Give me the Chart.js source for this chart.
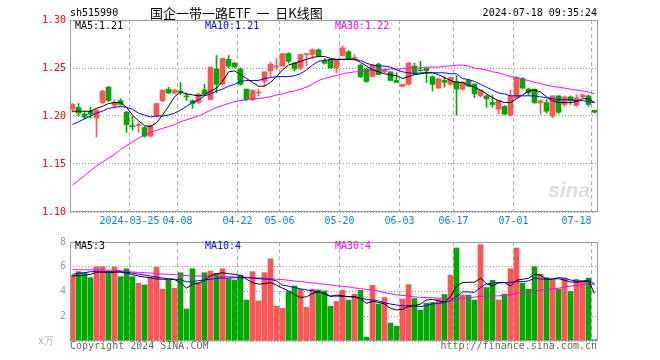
<!DOCTYPE html>
<html>
<head>
<meta charset="utf-8">
<script src="https://cdn.jsdelivr.net/npm/chart.js@4.4.1/dist/chart.umd.min.js"></script>
<style>
  body { margin: 0; background: #fff; }
  #wrap { position: relative; width: 660px; height: 360px; overflow: hidden; font-family: 'DejaVu Sans Mono', monospace; font-size: 10px; }
  #wrap canvas { position: absolute; left: 0; }
  .t { position: absolute; white-space: nowrap; line-height: 12px; }
</style>
</head>
<body>
<div id="wrap">
  <canvas id="priceChart" width="660" height="232" style="top:0"></canvas>
  <canvas id="volChart" width="660" height="128" style="top:232px"></canvas>

  <div class="t" style="left:548px;top:178px;font:italic bold 21px 'Liberation Sans',sans-serif;color:#dcdcdc;line-height:24px">sina</div>

  <div class="t" style="left:70px;top:7px">sh515990</div>
  <div class="t" style="left:150px;top:5px;font-family:'Noto Sans CJK SC',sans-serif;font-size:13px;line-height:16px">国企一带一路ETF&nbsp;&nbsp;一&nbsp;&nbsp;日K线图</div>
  <div class="t" style="right:63px;top:7px">2024-07-18 09:35:24</div>

  <div class="t" style="left:75px;top:20px;color:#000">MA5:1.21</div>
  <div class="t" style="left:205px;top:20px;color:#0000ff">MA10:1.21</div>
  <div class="t" style="left:335px;top:20px;color:#ff00ff">MA30:1.22</div>

  <div class="t" style="left:75px;top:240px;color:#000">MA5:3</div>
  <div class="t" style="left:205px;top:240px;color:#0000ff">MA10:4</div>
  <div class="t" style="left:335px;top:240px;color:#ff00ff">MA30:4</div>

  <div class="t" style="left:38px;top:335px;color:#aaa">x万</div>
  <div class="t" style="left:70px;top:340px;color:#666">Copyright 2024 SINA.COM</div>
  <div class="t" style="right:63px;top:340px;color:#666">http://finance.sina.com.cn</div>
</div>

<script>
// date ticks (index of the trading day in the series)
var tickIndex = [10, 18, 28, 35, 45, 55, 64, 74, 87];
var tickLabels = ['2024-03-25', '04-08', '04-22', '05-06', '05-20', '06-03', '06-17', '07-01', '07-18'];

// daily candles, 88 trading days
var opens = [1.207,1.209,1.202,1.205,1.198,1.214,1.230,1.211,1.216,1.204,
             1.190,1.190,1.188,1.179,1.200,1.216,1.228,1.224,1.226,1.221,
             1.216,1.214,1.227,1.217,1.249,1.233,1.259,1.255,1.249,1.228,
             1.217,1.224,1.236,1.247,1.251,1.252,1.265,1.255,1.250,1.264,
             1.264,1.269,1.258,1.258,1.250,1.263,1.267,1.260,1.253,1.249,
             1.241,1.254,1.246,1.246,1.237,1.231,1.233,1.252,1.248,1.250,
             1.241,1.229,1.237,1.233,1.236,1.228,1.237,1.233,1.221,1.221,
             1.214,1.207,1.210,1.201,1.219,1.239,1.228,1.228,1.214,1.214,
             1.200,1.221,1.212,1.220,1.211,1.220,1.221,1.206];
var highs = [1.213,1.213,1.205,1.209,1.207,1.227,1.231,1.217,1.218,1.205,
             1.200,1.193,1.189,1.191,1.213,1.227,1.230,1.228,1.235,1.224,
             1.217,1.224,1.233,1.251,1.263,1.260,1.263,1.256,1.250,1.228,
             1.227,1.228,1.246,1.256,1.260,1.265,1.266,1.256,1.264,1.265,
             1.270,1.270,1.260,1.259,1.259,1.273,1.268,1.264,1.254,1.250,
             1.254,1.255,1.249,1.246,1.245,1.233,1.256,1.255,1.257,1.250,
             1.242,1.239,1.241,1.241,1.242,1.236,1.238,1.234,1.227,1.222,
             1.222,1.216,1.211,1.227,1.241,1.240,1.229,1.228,1.217,1.217,
             1.221,1.221,1.221,1.221,1.222,1.223,1.222,1.206];
var lows = [1.204,1.200,1.197,1.198,1.178,1.213,1.215,1.209,1.211,1.183,
            1.185,1.183,1.178,1.178,1.199,1.215,1.223,1.223,1.222,1.216,
            1.208,1.213,1.221,1.217,1.224,1.232,1.250,1.250,1.232,1.216,
            1.216,1.221,1.231,1.241,1.248,1.252,1.255,1.247,1.248,1.252,
            1.260,1.262,1.254,1.250,1.245,1.263,1.259,1.258,1.240,1.235,
            1.241,1.243,1.245,1.237,1.235,1.230,1.232,1.243,1.247,1.235,
            1.226,1.229,1.230,1.232,1.201,1.227,1.231,1.219,1.220,1.209,
            1.209,1.202,1.201,1.200,1.218,1.229,1.222,1.213,1.202,1.203,
            1.198,1.202,1.210,1.212,1.210,1.219,1.210,1.203];
var closes = [1.212,1.203,1.199,1.202,1.206,1.226,1.216,1.214,1.212,1.191,
              1.189,1.191,1.179,1.190,1.213,1.227,1.224,1.227,1.225,1.220,
              1.213,1.223,1.223,1.251,1.233,1.260,1.252,1.251,1.233,1.217,
              1.227,1.225,1.246,1.254,1.251,1.265,1.257,1.249,1.264,1.264,
              1.269,1.262,1.255,1.250,1.259,1.271,1.259,1.260,1.241,1.236,
              1.253,1.243,1.248,1.237,1.235,1.233,1.255,1.245,1.247,1.247,
              1.233,1.239,1.235,1.240,1.228,1.235,1.231,1.223,1.227,1.218,
              1.212,1.216,1.202,1.221,1.240,1.229,1.224,1.214,1.216,1.205,
              1.221,1.204,1.220,1.216,1.219,1.222,1.212,1.204];

// moving averages as drawn on the chart
var ma5 = [1.205,1.205,1.205,1.205,1.208,1.210,1.213,1.214,1.214,1.209,
           1.201,1.195,1.190,1.189,1.193,1.201,1.210,1.220,1.225,1.223,
           1.222,1.221,1.222,1.226,1.229,1.236,1.246,1.247,1.243,1.239,
           1.235,1.231,1.231,1.235,1.241,1.248,1.253,1.255,1.257,1.259,
           1.261,1.262,1.262,1.260,1.259,1.259,1.259,1.259,1.256,1.252,
           1.248,1.246,1.244,1.243,1.242,1.239,1.241,1.243,1.244,1.245,
           1.245,1.243,1.240,1.237,1.235,1.235,1.232,1.230,1.227,1.223,
           1.219,1.216,1.214,1.214,1.218,1.222,1.226,1.227,1.225,1.220,
           1.216,1.214,1.214,1.214,1.215,1.218,1.218,1.214];
var ma10 = [1.191,1.194,1.197,1.200,1.203,1.205,1.208,1.209,1.210,1.209,
            1.207,1.203,1.201,1.199,1.200,1.200,1.201,1.203,1.206,1.210,
            1.214,1.217,1.221,1.223,1.226,1.228,1.231,1.233,1.236,1.237,
            1.237,1.237,1.239,1.240,1.241,1.241,1.241,1.242,1.244,1.248,
            1.253,1.257,1.258,1.259,1.259,1.259,1.259,1.259,1.258,1.255,
            1.253,1.252,1.252,1.251,1.248,1.246,1.245,1.244,1.245,1.245,
            1.245,1.245,1.245,1.244,1.244,1.239,1.238,1.236,1.233,1.230,
            1.227,1.224,1.223,1.221,1.221,1.221,1.221,1.221,1.220,1.219,
            1.218,1.217,1.217,1.217,1.216,1.216,1.215,1.214];
var ma30 = [1.128,1.133,1.138,1.143,1.148,1.152,1.156,1.160,1.165,1.169,
            1.173,1.177,1.180,1.183,1.185,1.187,1.189,1.191,1.194,1.196,
            1.198,1.200,1.203,1.206,1.209,1.211,1.213,1.215,1.216,1.217,
            1.218,1.218,1.219,1.220,1.222,1.223,1.225,1.226,1.228,1.230,
            1.233,1.237,1.239,1.241,1.242,1.244,1.245,1.246,1.246,1.247,
            1.248,1.248,1.248,1.249,1.249,1.249,1.250,1.250,1.250,1.251,
            1.251,1.251,1.252,1.252,1.253,1.253,1.252,1.250,1.249,1.248,
            1.246,1.245,1.243,1.241,1.240,1.238,1.237,1.235,1.234,1.232,
            1.231,1.230,1.229,1.228,1.227,1.226,1.225,1.223];

// volume (x万) and its moving averages
var volumes = [5.33,5.6,5.52,5.12,6.0,6.0,5.65,6.0,5.2,5.84,
               5.2,4.67,4.53,5.12,5.97,4.19,4.9,4.27,5.52,2.59,
               5.84,4.72,5.52,5.65,5.47,5.84,5.04,4.93,5.33,3.31,
               5.6,3.23,5.52,6.64,2.8,2.64,4.0,4.45,4.19,2.72,
               4.19,4.13,4.05,2.8,3.2,4.1,3.31,3.79,4.1,0.32,
               4.5,2.99,3.52,1.44,1.2,3.39,4.56,3.44,2.51,3.04,
               3.12,3.39,3.76,5.31,7.52,3.71,3.71,3.31,7.79,4.32,
               4.9,3.31,3.79,5.84,7.52,4.67,4.19,6.0,5.39,5.12,
               4.9,4.19,5.07,4.0,4.99,4.9,5.07,0.1];
var vma5 = [5.25,5.28,5.31,5.39,5.55,5.57,5.57,5.57,5.57,5.49,
            5.36,5.25,5.17,5.12,5.01,4.99,4.99,4.96,4.72,4.27,
            4.59,4.67,4.9,5.28,5.44,5.52,5.44,5.39,5.28,4.99,
            4.72,4.59,4.64,4.72,4.53,4.27,4.05,3.73,3.52,3.57,
            3.84,3.97,3.84,3.6,3.71,3.65,3.57,3.57,3.41,3.04,
            3.2,3.12,2.99,2.64,2.51,2.56,2.8,2.85,2.99,3.31,
            3.36,3.25,3.12,3.57,4.45,4.72,4.75,4.75,5.07,4.64,
            4.45,4.69,4.72,4.45,4.91,4.99,5.07,5.39,5.31,4.99,
            4.99,5.04,4.91,4.77,4.75,4.8,4.85,3.85];
var vma10 = [5.39,5.47,5.52,5.6,5.63,5.57,5.55,5.57,5.6,5.55,
             5.49,5.41,5.33,5.25,5.17,5.09,5.04,4.99,4.96,4.77,
             4.8,4.88,4.93,4.99,5.07,5.09,5.09,5.12,5.12,5.12,
             5.09,5.04,5.01,4.99,4.85,4.51,4.43,4.32,4.21,4.13,
             4.05,3.97,3.81,3.63,3.63,3.6,3.6,3.57,3.47,3.36,
             3.31,3.23,3.09,2.99,2.91,2.85,2.85,2.83,2.77,2.88,
             2.99,3.04,3.12,3.25,3.6,3.97,3.97,3.92,4.32,4.61,
             4.69,4.72,4.72,4.75,4.8,4.8,4.85,5.09,5.01,4.99,
             5.01,5.12,5.07,4.93,4.85,4.83,4.91,4.59];
var vma30 = [5.76,5.76,5.76,5.76,5.76,5.73,5.73,5.71,5.68,5.63,
             5.57,5.55,5.52,5.49,5.44,5.41,5.39,5.36,5.33,5.28,
             5.25,5.25,5.25,5.25,5.23,5.2,5.2,5.17,5.17,5.15,
             5.12,5.09,5.07,5.04,4.99,4.96,4.91,4.85,4.8,4.75,
             4.69,4.64,4.59,4.53,4.45,4.43,4.37,4.29,4.24,4.16,
             4.11,4.03,3.92,3.81,3.73,3.68,3.63,3.57,3.52,3.52,
             3.49,3.47,3.45,3.44,3.44,3.45,3.49,3.55,3.6,3.63,
             3.65,3.65,3.68,3.73,3.84,3.92,3.97,4.03,4.11,4.16,
             4.21,4.27,4.35,4.43,4.51,4.59,4.64,4.56];

var UP = '#ff5555', DOWN = '#00a800';
var xMin = -5 / 12, xMax = xMin + opens.length;

Chart.defaults.font.family = "'DejaVu Sans Mono', monospace";
Chart.defaults.font.size = 10;

function pts(arr) {
    return arr.map(function(v, i) { return {x: i, y: v}; });
}

var candleColors = closes.map(function(c, i) { return c >= opens[i] ? UP : DOWN; });
var bodies = opens.map(function(o, i) { return {x: i, y: [o, closes[i]]}; });
var wicks = lows.map(function(l, i) { return {x: i, y: [l, highs[i]]}; });
var volBars = pts(volumes);

function lineSet(arr, color) {
    return {type: 'line', data: pts(arr), borderColor: color, borderWidth: 1,
            pointRadius: 0, tension: 0, order: 0};
}

// solid grey box round the plot
var framePlugin = {
    id: 'frame',
    afterDraw: function(chart) {
        var a = chart.chartArea, ctx = chart.ctx;
        ctx.save();
        ctx.strokeStyle = '#999';
        ctx.lineWidth = 1;
        ctx.strokeRect(a.left + 0.5, a.top + 0.5, a.right - a.left - 1, a.bottom - a.top - 1);
        ctx.restore();
    }
};

// date labels under the price panel, last one kept inside the box
var dateLabelPlugin = {
    id: 'dateLabels',
    afterDraw: function(chart) {
        var xs = chart.scales.x, ctx = chart.ctx;
        ctx.save();
        ctx.font = "10px 'DejaVu Sans Mono'";
        ctx.fillStyle = '#0a84d0';
        ctx.textBaseline = 'middle';
        for (var k = 0; k < tickIndex.length; k++) {
            var x = xs.getPixelForValue(tickIndex[k] - 0.5);
            ctx.textAlign = (k === tickIndex.length - 1) ? 'right' : 'center';
            ctx.fillText(tickLabels[k], x, chart.chartArea.bottom + 9);
        }
        ctx.restore();
    }
};

function xAxis(height) {
    return {
        type: 'linear', min: xMin, max: xMax, offset: false,
        afterFit: function(s) { s.height = height; },
        afterBuildTicks: function(s) {
            s.ticks = tickIndex.map(function(v) { return {value: v - 0.5}; });
        },
        ticks: {display: false},
        grid: {color: '#b0b0b0', drawTicks: false, offset: false},
        border: {display: false, dash: [4, 3]}
    };
}

new Chart(document.getElementById('priceChart'), {
    type: 'bar',
    data: {
        datasets: [
            lineSet(ma5, '#000000'),
            lineSet(ma10, '#0000ff'),
            lineSet(ma30, '#ff00ff'),
            {data: bodies, backgroundColor: candleColors, barThickness: 5, minBarLength: 1,
             grouped: false, order: 1},
            {data: wicks, backgroundColor: candleColors, barThickness: 1, minBarLength: 1,
             grouped: false, order: 2}
        ]
    },
    options: {
        responsive: false,
        animation: false,
        layout: {padding: {left: 0, right: 62, top: 20, bottom: 0}},
        plugins: {legend: {display: false}, tooltip: {enabled: false}},
        scales: {
            x: xAxis(20),
            y: {
                min: 1.10, max: 1.30,
                afterFit: function(s) { s.width = 70; },
                ticks: {stepSize: 0.05, color: '#ff0000', padding: 4,
                        callback: function(v) { return v.toFixed(2); }},
                grid: {color: '#999', drawTicks: false},
                border: {display: false, dash: [1, 2]}
            }
        }
    },
    plugins: [framePlugin, dateLabelPlugin]
});

new Chart(document.getElementById('volChart'), {
    type: 'bar',
    data: {
        datasets: [
            lineSet(vma5, '#000000'),
            lineSet(vma10, '#0000ff'),
            lineSet(vma30, '#ff00ff'),
            {data: volBars, backgroundColor: candleColors, barThickness: 5, grouped: false, order: 1}
        ]
    },
    options: {
        responsive: false,
        animation: false,
        layout: {padding: {left: 0, right: 62, top: 8, bottom: 0}},
        plugins: {legend: {display: false}, tooltip: {enabled: false}},
        scales: {
            x: xAxis(19),
            y: {
                min: 0, max: 8,
                afterFit: function(s) { s.width = 70; },
                ticks: {stepSize: 2, color: '#999', padding: 4,
                        callback: function(v) { return v === 0 ? '' : v; }},
                grid: {color: '#999', drawTicks: false},
                border: {display: false, dash: [1, 2]}
            }
        }
    },
    plugins: [framePlugin]
});
</script>
</body>
</html>
